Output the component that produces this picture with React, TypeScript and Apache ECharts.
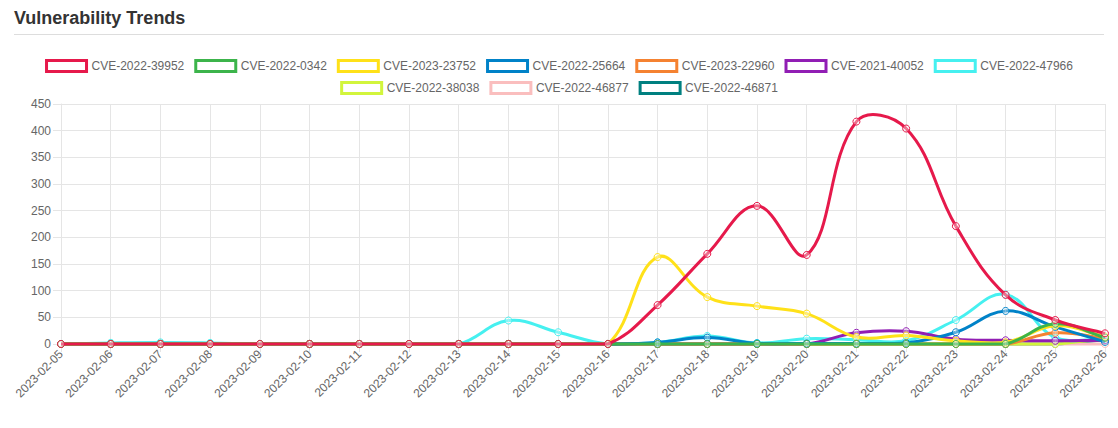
import React, { useEffect, useRef } from "react";
import * as echarts from "echarts";

const dates = [
  "2023-02-05", "2023-02-06", "2023-02-07", "2023-02-08", "2023-02-09", "2023-02-10",
  "2023-02-11", "2023-02-12", "2023-02-13", "2023-02-14", "2023-02-15", "2023-02-16",
  "2023-02-17", "2023-02-18", "2023-02-19", "2023-02-20", "2023-02-21", "2023-02-22",
  "2023-02-23", "2023-02-24", "2023-02-25", "2023-02-26",
];

const cveNames = [
  "CVE-2022-39952", "CVE-2022-0342", "CVE-2023-23752", "CVE-2022-25664", "CVE-2023-22960",
  "CVE-2021-40052", "CVE-2022-47966", "CVE-2022-38038", "CVE-2022-46877", "CVE-2022-46871",
];

const cveColors = [
  "#e6194b", "#3cb44b", "#ffe119", "#0082c8", "#f58231",
  "#911eb4", "#46f0f0", "#d2f53c", "#fabebe", "#008080",
];

const cve39952 = [0, 0, 0, 0, 0, 0, 0, 0, 0, 0, 0, 0, 73, 169, 259, 167, 417, 404, 221, 92, 45, 20];
const cve0342 = [0, 0, 0, 0, 0, 0, 0, 0, 0, 0, 0, 0, 0, 0, 0, 0, 0, 0, 0, 0, 38, 12];
const cve23752 = [0, 0, 0, 0, 0, 0, 0, 0, 0, 0, 0, 0, 163, 88, 71, 57, 13, 16, 6, 3, 34, 14];
const cve25664 = [0, 0, 0, 0, 0, 0, 0, 0, 0, 0, 0, 0, 3, 12, 1, 1, 1, 2, 22, 62, 32, 4];
const cve22960 = [0, 0, 0, 0, 0, 0, 0, 0, 0, 0, 0, 0, 0, 0, 0, 0, 0, 0, 0, 0, 21, 11];
const cve40052 = [0, 0, 0, 0, 0, 0, 0, 0, 0, 0, 0, 0, 0, 0, 0, 0, 21, 24, 9, 7, 6, 7];
const cve47966 = [0, 2, 3, 2, 0, 0, 0, 0, 0, 44, 22, 0, 3, 15, 2, 10, 8, 6, 45, 93, 12, 9];
const cve38038 = [0, 0, 0, 0, 0, 0, 0, 0, 0, 0, 0, 0, 0, 0, 0, 0, 0, 0, 0, 0, 0, 10];
const cve46877 = [0, 0, 0, 0, 0, 0, 0, 0, 0, 0, 0, 0, 0, 0, 0, 0, 0, 0, 0, 0, 0, 0];
const cve46871 = [0, 0, 0, 0, 0, 0, 0, 0, 0, 0, 0, 0, 0, 0, 0, 0, 0, 0, 0, 0, 0, 8];

const seriesValues = [
  cve39952, cve0342, cve23752, cve25664, cve22960,
  cve40052, cve47966, cve38038, cve46877, cve46871,
];

const yTicks = { min: 0, max: 450, interval: 50 };
const TENSION = 0.4;

const FONT = "'Liberation Sans', Arial, Helvetica, sans-serif";

type Pt = { x: number; y: number };

function controlPoints(prev: Pt, cur: Pt, next: Pt, t: number) {
  const d01 = Math.hypot(cur.x - prev.x, cur.y - prev.y);
  const d12 = Math.hypot(next.x - cur.x, next.y - cur.y);
  let s01 = d01 / (d01 + d12);
  let s12 = d12 / (d01 + d12);
  if (isNaN(s01)) s01 = 0;
  if (isNaN(s12)) s12 = 0;
  const fa = t * s01;
  const fb = t * s12;
  return {
    prev: { x: cur.x - fa * (next.x - prev.x), y: cur.y - fa * (next.y - prev.y) },
    next: { x: cur.x + fb * (next.x - prev.x), y: cur.y + fb * (next.y - prev.y) },
  };
}

export default function App() {
  const ref = useRef<HTMLDivElement>(null);

  useEffect(() => {
    if (!ref.current) return;
    const chart = echarts.init(ref.current, undefined, { renderer: "svg" });

    const legendItem = (name: string, i: number) => ({
      name,
      itemStyle: { color: "#ffffff", borderColor: cveColors[i], borderWidth: 3 },
    });

    const legendCommon = {
      orient: "horizontal",
      left: "center",
      itemWidth: 40,
      itemHeight: 11,
      itemGap: 10,
      icon: "rect",
      textStyle: { color: "#666", fontSize: 12, fontFamily: FONT },
      selectedMode: false,
    };

    const makeRender = (vals: number[], color: string) => (params: any, api: any) => {
      const i = params.dataIndex;
      const n = vals.length;
      if (i >= n - 1) return { type: "group", children: [] };
      const cs = params.coordSys;
      const pt = (j: number): Pt => {
        const c = api.coord([j, vals[j]]);
        return { x: c[0], y: c[1] };
      };
      const p0 = i > 0 ? pt(i - 1) : pt(i);
      const p1 = pt(i);
      const p2 = pt(i + 1);
      const p3 = i + 2 < n ? pt(i + 2) : pt(i + 1);
      const clampX = (x: number) => Math.max(cs.x, Math.min(cs.x + cs.width, x));
      const clampY = (y: number) => Math.max(cs.y, Math.min(cs.y + cs.height, y));
      const a = controlPoints(p0, p1, p2, TENSION).next;
      const b = controlPoints(p1, p2, p3, TENSION).prev;
      return {
        type: "bezierCurve",
        shape: {
          x1: p1.x, y1: p1.y,
          x2: p2.x, y2: p2.y,
          cpx1: clampX(a.x), cpy1: clampY(a.y),
          cpx2: clampX(b.x), cpy2: clampY(b.y),
        },
        style: { stroke: color, lineWidth: 3, fill: null, lineCap: "butt", lineJoin: "round" },
        silent: true,
      };
    };

    const series: any[] = [];
    cveNames.forEach((name, i) => {
      const vals = seriesValues[i];
      series.push({
        name,
        type: "custom",
        data: vals.map((v, j) => [j, v]),
        encode: { x: 0, y: 1 },
        renderItem: makeRender(vals, cveColors[i]),
        z: 50 - 2 * i,
        silent: true,
      });
      series.push({
        name,
        type: "line",
        data: vals,
        z: 51 - 2 * i,
        symbol: "circle",
        symbolSize: 7,
        showSymbol: true,
        lineStyle: { width: 0, opacity: 0 },
        itemStyle: {
          color: "rgba(255,255,255,0.35)",
          borderColor: cveColors[i],
          borderWidth: 1,
        },
        emphasis: { disabled: true },
        silent: true,
      });
    });

    const option: any = {
      animation: false,
      textStyle: { fontFamily: FONT },
      title: {
        text: "Vulnerability Trends",
        left: 14,
        top: 9,
        padding: 0,
        textStyle: { fontSize: 18, fontWeight: "bold", color: "#333", fontFamily: FONT },
      },
      graphic: [
        {
          type: "line",
          shape: { x1: 14, y1: 34.5, x2: 1104, y2: 34.5 },
          style: { stroke: "#dddddd", lineWidth: 1 },
        },
      ],
      legend: [
        {
          ...legendCommon,
          top: 54,
          data: cveNames.slice(0, 7).map((n, i) => legendItem(n, i)),
        },
        {
          ...legendCommon,
          top: 76,
          data: cveNames.slice(7).map((n, i) => legendItem(n, i + 7)),
        },
      ],
      grid: { left: 61, right: 13, top: 104, bottom: 84, containLabel: false },
      xAxis: {
        type: "category",
        data: dates,
        boundaryGap: false,
        axisLine: { show: true, lineStyle: { color: "#d9d9d9" } },
        axisTick: { show: true, length: 8, alignWithLabel: true, lineStyle: { color: "#e5e5e5" } },
        axisLabel: {
          rotate: 45,
          color: "#666",
          fontSize: 12,
          fontFamily: FONT,
          margin: 8,
          interval: 0,
        },
        splitLine: { show: true, lineStyle: { color: "#e5e5e5" } },
      },
      yAxis: {
        type: "value",
        min: yTicks.min,
        max: yTicks.max,
        interval: yTicks.interval,
        axisLine: { show: true, lineStyle: { color: "#e5e5e5" } },
        axisTick: { show: true, length: 8, lineStyle: { color: "#e5e5e5" } },
        axisLabel: { color: "#666", fontSize: 12, fontFamily: FONT, margin: 10 },
        splitLine: { show: true, lineStyle: { color: "#e5e5e5" } },
      },
      series,
    };

    chart.setOption(option);
    return () => chart.dispose();
  }, []);

  return (
    <div
      ref={ref}
      style={{ position: "absolute", left: 0, top: 0, width: 1118, height: 428, background: "#fff" }}
    />
  );
}
